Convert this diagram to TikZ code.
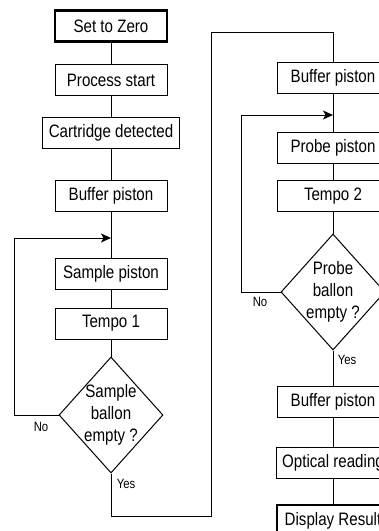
\documentclass[tikz,border=0pt]{standalone}
\usepackage{fontspec}
\setmainfont{Liberation Sans}[FakeStretch=0.84]
\usetikzlibrary{shapes.geometric, arrows.meta}

\begin{document}
\begin{tikzpicture}[
    x=1pt, y=-1pt,
    box/.style={draw, line width=1pt, minimum width=112pt, minimum height=31pt, inner sep=6pt, font=\fontsize{18}{21}\selectfont},
    endbox/.style={box, line width=2.6pt},
    decision/.style={draw, diamond, line width=1pt, aspect=0.9, minimum width=104pt, minimum height=116pt, inner sep=-2pt, align=center, font=\fontsize{18}{22}\selectfont},
    link/.style={line width=1pt},
    arrow/.style={-{Stealth[length=10pt, width=9pt, inset=2.5pt]}, line width=1pt},
    answer/.style={font=\fontsize{13.5}{15}\selectfont}
]
\path[use as bounding box, clip] (0,0) rectangle (379,531);

% Sample stage
\node[endbox] (zero) at (111,26) {Set to Zero};
\node[box] (start) at (111,80) {Process start};
\node[box] (cart) at (111,132.5) {Cartridge detected};
\node[box] (buffer1) at (111,196) {Buffer piston};
\node[box] (sample) at (111,273.5) {Sample piston};
\node[box] (tempo1) at (111,323.5) {Tempo 1};
\node[decision] (sempty) at (111,415) {Sample\\ballon\\empty ?};

% Probe stage
\node[box] (buffer2) at (333,77.5) {Buffer piston};
\node[box] (probe) at (333,147.5) {Probe piston};
\node[box] (tempo2) at (333,196) {Tempo 2};
\node[decision] (pempty) at (333,292) {Probe\\ballon\\empty ?};
\node[box] (buffer3) at (333,401.5) {Buffer piston};
\node[box] (optic) at (333,463) {Optical reading};
\node[endbox] (result) at (333,520.5) {Display Result};

% Loop points
\coordinate (sjoin) at (111,238);
\coordinate (sleft) at (14,238);
\coordinate (pjoin) at (333,115);
\coordinate (pleft) at (241,115);
\coordinate (cross1) at (211,516);
\coordinate (cross2) at (211,32);

% Connectors
\draw[link] (zero) -- (start);
\draw[link] (start) -- (cart);
\draw[link] (cart) -- (buffer1);
\draw[link] (buffer1) -- (sample);
\draw[link] (sample) -- (tempo1);
\draw[link] (tempo1) -- (sempty);
\draw[arrow] (sempty.west) -| (sleft) -- (sjoin);
\draw[link] (sempty.south) |- (cross1) -- (cross2) -| (buffer2.north);
\draw[link] (buffer2) -- (probe);
\draw[link] (probe) -- (tempo2);
\draw[link] (tempo2) -- (pempty);
\draw[arrow] (pempty.west) -| (pleft) -- (pjoin);
\draw[link] (pempty) -- (buffer3);
\draw[link] (buffer3) -- (optic);
\draw[link] (optic) -- (result);

% Answers
\node[answer] (sno) at (41,427) {No};
\node[answer] (syes) at (126,484) {Yes};
\node[answer] (pno) at (260,302) {No};
\node[answer] (pyes) at (347,360) {Yes};

\end{tikzpicture}
\end{document}
